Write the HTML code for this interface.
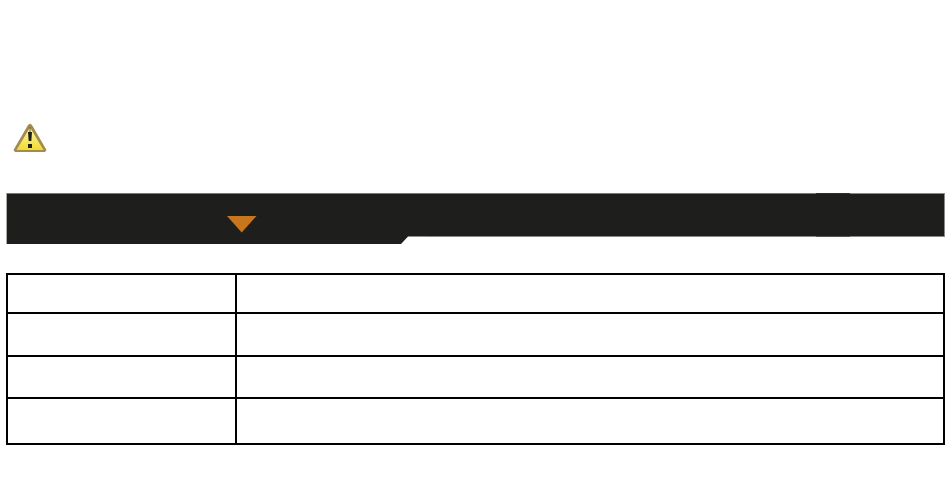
<!DOCTYPE html>
<html>
<head>
<meta charset="utf-8">
<style>
html,body{margin:0;padding:0;background:#fff;width:950px;height:481px;overflow:hidden}
svg{display:block;position:absolute;left:0;top:0}
</style>
</head>
<body>
<svg width="950" height="481" viewBox="0 0 950 481" xmlns="http://www.w3.org/2000/svg">
<defs>
<linearGradient id="g" x1="0" y1="0" x2="0" y2="1">
<stop offset="0" stop-color="#fbf6a8"/>
<stop offset="1" stop-color="#f0dc30"/>
</linearGradient>
</defs>
<polygon points="30,123.500 32,125 46.500,150 45,152 15,152 13.500,150 28,125" fill="#a58a50"/>
<polygon points="30,127.500 43.500,150 16.500,150" fill="url(#g)"/>
<rect x="29.500" y="127" width="1" height="5" fill="#6b6440"/>
<polygon points="28,132 32,132 31.300,141 28.700,141" fill="#1f1f18"/>
<rect x="28" y="144" width="4" height="4" fill="#1f1f18"/>

<polygon points="6,193 945,193 945,236.500 408,236.500 401,244 6,244" fill="#1e1e1c"/>
<rect x="6" y="193" width="810" height="1" fill="#777"/>
<rect x="850" y="193" width="95" height="1" fill="#888"/>
<rect x="816" y="193" width="34" height="1" fill="#2e2e2c"/>
<rect x="426" y="236" width="390" height="1" fill="#888"/>
<rect x="816" y="236" width="34" height="1" fill="#555"/>
<rect x="850" y="236" width="95" height="1" fill="#888"/>
<rect x="944" y="193" width="1" height="44" fill="#888"/>
<rect x="6" y="193" width="1" height="51" fill="#aaa"/>
<polygon points="227,216 256.500,216 241.700,232.500" fill="#c8761c"/>

<g fill="#000">
<rect x="6" y="273" width="939" height="2"/>
<rect x="6" y="312" width="939" height="2"/>
<rect x="6" y="355" width="939" height="2"/>
<rect x="6" y="397" width="939" height="2"/>
<rect x="6" y="443" width="939" height="2"/>
<rect x="6" y="273" width="2" height="172"/>
<rect x="235" y="273" width="2" height="172"/>
<rect x="943" y="273" width="2" height="172"/>
</g>
</svg>
</body>
</html>
